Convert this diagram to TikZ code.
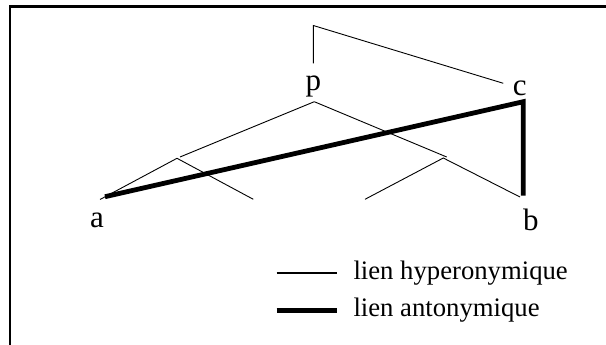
\documentclass[tikz,border=0pt]{standalone}
\usepackage{fontspec}
\setmainfont{Liberation Serif}
\begin{document}
\begin{tikzpicture}[x=1pt,y=-1pt,
  thinlink/.style={line width=0.9pt},
  thicklink/.style={line width=4.8pt,line join=miter},
  legthin/.style={line width=1.8pt},
  lbl/.style={inner sep=0pt,font=\fontsize{31}{37}\selectfont},
  legtext/.style={inner sep=0pt,anchor=base west,font=\fontsize{26.7}{32}\selectfont}]
\useasboundingbox (0,0) rectangle (606,345);
\fill[white] (0,0) rectangle (606,345);
% frame (cropped)
\draw[line width=2.4pt] (10,345) -- (10,6.5) -- (606,6.5);
% labels
\node[lbl] (p) at (313.3,86.3) {p};
\node[lbl] (c) at (519.7,88.3) {c};
\node[lbl] (a) at (97,220.8) {a};
\node[lbl] (b) at (530.8,219.7) {b};
% coordinates
\coordinate (ptop) at (313.3,25.5);
\coordinate (pstub) at (313.3,63.3);
\coordinate (cend) at (503.3,83.3);
\coordinate (papex) at (314.3,101.7);
\coordinate (lj) at (177,158.3);
\coordinate (ljt) at (180,157);
\coordinate (lleft) at (100,199.5);
\coordinate (lright) at (253.3,199.3);
\coordinate (rj) at (443.3,158);
\coordinate (rjt) at (446.7,157);
\coordinate (rleft) at (365,199.3);
\coordinate (rright) at (520,197);
\coordinate (athick) at (105,196.7);
\coordinate (cthick) at (523.3,101.7);
\coordinate (bthick) at (523.3,195.5);
% hyperonymic links
\draw[thinlink] (pstub) -- (ptop) -- (cend);
\draw[thinlink] (papex) -- (ljt);
\draw[thinlink] (lleft) -- (lj) -- (lright);
\draw[thinlink] (papex) -- (rjt);
\draw[thinlink] (rleft) -- (rj) -- (rright);
% antonymic link
\draw[thicklink] (athick) -- (cthick) -- (bthick);
% legend
\coordinate (l1a) at (276.7,272.7);
\coordinate (l1b) at (337.3,272.7);
\coordinate (l2a) at (276.7,310);
\coordinate (l2b) at (337.3,310);
\draw[legthin] (l1a) -- (l1b);
\draw[line width=5pt] (l2a) -- (l2b);
\node[legtext] (t1) at (353.3,279.3) {lien hyperonymique};
\node[legtext] (t2) at (353.3,316.7) {lien antonymique};
\end{tikzpicture}
\end{document}
